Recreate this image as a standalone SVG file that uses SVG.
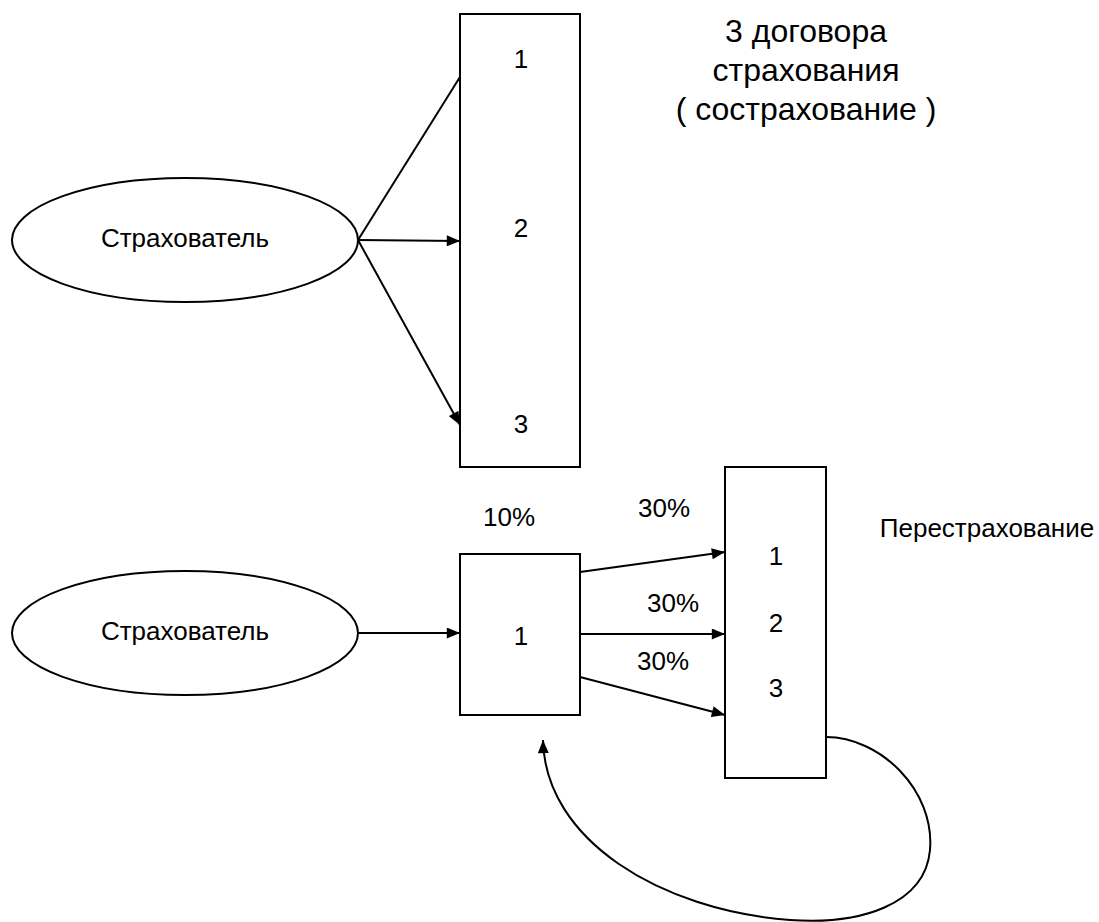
<svg xmlns="http://www.w3.org/2000/svg" width="1099" height="922" viewBox="0 0 1099 922">
<style>
.s{fill:#fff;stroke:#000;stroke-width:2}
.l{fill:none;stroke:#000;stroke-width:2}
text{font-family:"Liberation Sans",Arial,sans-serif;font-size:26px;fill:#000;text-anchor:middle}
.h{font-size:32px}
</style>
<defs>
<marker id="a" viewBox="0 0 12 10" refX="12" refY="5" markerWidth="14" markerHeight="11" markerUnits="userSpaceOnUse" orient="auto"><path d="M0,0 L12,5 L0,10 z" fill="#000"/></marker>
</defs>
<rect width="1099" height="922" fill="#fff"/>
<g id="connectors">
<line class="l" x1="358" y1="240" x2="460" y2="77"/>
<line class="l" x1="358" y1="240" x2="460" y2="241" marker-end="url(#a)"/>
<line class="l" x1="358" y1="240" x2="460" y2="425" marker-end="url(#a)"/>
<line class="l" x1="358" y1="633" x2="460" y2="633" marker-end="url(#a)"/>
<line class="l" x1="580" y1="572" x2="725" y2="552" marker-end="url(#a)"/>
<line class="l" x1="580" y1="634" x2="725" y2="634" marker-end="url(#a)"/>
<line class="l" x1="580" y1="677" x2="725" y2="715" marker-end="url(#a)"/>
<path class="l" d="M826,737 C880,737 935,790 930,850 C925,905 860,925 790,920 C660,910 545,840 543,740" marker-end="url(#a)"/>
</g>
<g id="ellipse1"><ellipse class="s" cx="185" cy="240" rx="173" ry="62"/><text x="185" y="247">Страхователь</text></g>
<g id="box-top"><rect class="s" x="460" y="14" width="120" height="453"/>
<text x="521" y="68">1</text><text x="521" y="237">2</text><text x="521" y="433">3</text></g>
<g id="title"><text class="h" x="806" y="42">3 договора</text><text class="h" x="806" y="81">страхования</text><text class="h" x="806" y="120">( сострахование )</text></g>
<g id="ellipse2"><ellipse class="s" cx="185" cy="633" rx="173" ry="62"/><text x="185" y="640">Страхователь</text></g>
<g id="box-1"><rect class="s" x="460" y="554" width="120" height="161"/><text x="521" y="645">1</text></g>
<g id="box-re"><rect class="s" x="725" y="467" width="101" height="311"/>
<text x="776" y="565">1</text><text x="776" y="632">2</text><text x="776" y="697">3</text></g>
<g id="labels">
<text x="509" y="526">10%</text>
<text x="664" y="517">30%</text>
<text x="673" y="612">30%</text>
<text x="663" y="670">30%</text>
<text x="987" y="537">Перестрахование</text>
</g>
</svg>
